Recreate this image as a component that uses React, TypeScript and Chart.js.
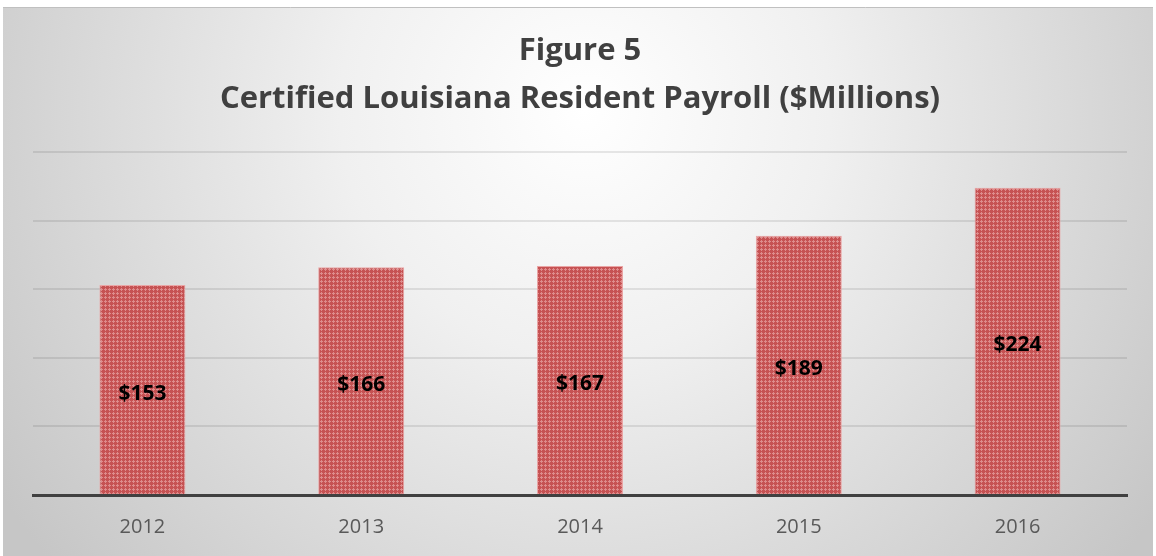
import React, { useEffect, useRef } from "react";
import { Chart, registerables } from "chart.js";

Chart.register(...registerables);

const categories = ["2012", "2013", "2014", "2015", "2016"];
const payroll = [153, 166, 167, 189, 224];
const valueLabels = ["$153", "$166", "$167", "$189", "$224"];
const titleLines = ["Figure 5", "Certified Louisiana Resident Payroll ($Millions)"];

function makePattern(): CanvasPattern | string {
  const c = document.createElement("canvas");
  c.width = 4;
  c.height = 4;
  const g = c.getContext("2d");
  if (!g) return "#cc5555";
  g.fillStyle = "#c65253";
  g.fillRect(0, 0, 4, 4);
  g.fillStyle = "#de8c8c";
  g.fillRect(1, 0, 1, 3);
  g.fillRect(0, 1, 3, 1);
  const p = g.createPattern(c, "repeat");
  return p || "#cc5555";
}

const backgroundPlugin = {
  id: "bgPanel",
  beforeDraw(chart: any) {
    const { ctx, width, height } = chart;
    ctx.save();
    ctx.fillStyle = "#ffffff";
    ctx.fillRect(0, 0, width, height);
    const x0 = 3, y0 = 7, x1 = 1153, y1 = height;
    const grad = ctx.createRadialGradient(585, 110, 0, 585, 110, 700);
    grad.addColorStop(0, "#ffffff");
    grad.addColorStop(0.35, "#f0f0f0");
    grad.addColorStop(1, "#c6c6c6");
    ctx.fillStyle = grad;
    ctx.fillRect(x0, y0, x1 - x0, y1 - y0);
    ctx.strokeStyle = "#c0c0c0";
    ctx.lineWidth = 1;
    ctx.beginPath();
    ctx.moveTo(x0, y0 + 0.5);
    ctx.lineTo(x1, y0 + 0.5);
    ctx.stroke();
    ctx.restore();
  },
};

const labelPlugin = {
  id: "midLabels",
  afterDatasetsDraw(chart: any) {
    const { ctx } = chart;
    const meta = chart.getDatasetMeta(0);
    ctx.save();
    ctx.font = "bold 21px 'Open Sans'";
    ctx.fillStyle = "#000000";
    ctx.textAlign = "center";
    ctx.textBaseline = "middle";
    meta.data.forEach((bar: any, i: number) => {
      const y = (bar.y + bar.base) / 2 + 4;
      ctx.fillText(valueLabels[i], bar.x, y);
    });
    ctx.restore();
  },
};

export default function App() {
  const ref = useRef<HTMLCanvasElement | null>(null);
  useEffect(() => {
    if (!ref.current) return;
    const chart = new Chart(ref.current, {
      type: "bar",
      data: {
        labels: categories,
        datasets: [
          {
            data: payroll,
            backgroundColor: makePattern() as any,
            borderColor: "#eaa5a5",
            borderWidth: 1,
            barPercentage: 1,
            categoryPercentage: 0.393,
          },
        ],
      },
      options: {
        animation: false,
        responsive: false,
        maintainAspectRatio: false,
        layout: { padding: { left: 33, right: 29, top: 0, bottom: 0 } },
        plugins: {
          legend: { display: false },
          tooltip: { enabled: false },
          title: {
            display: true,
            text: titleLines,
            color: "#404040",
            font: { family: "'Open Sans'", size: 31, weight: "bold", lineHeight: 48 / 31 },
            padding: { top: 27, bottom: 29 },
          },
        },
        scales: {
          x: {
            grid: { display: false, drawTicks: false },
            border: { display: true, color: "#404040", width: 3 },
            ticks: { color: "#595959", font: { family: "'Open Sans'", size: 20 }, padding: 20 },
          },
          y: {
            min: 0,
            max: 250,
            ticks: { display: false, stepSize: 50 },
            border: { display: false },
            grid: {
              drawTicks: false,
              lineWidth: 2,
              color: (c: any) => (c.tick && c.tick.value === 0 ? "rgba(0,0,0,0)" : "rgba(0,0,0,0.09)"),
            },
          },
        },
      },
      plugins: [backgroundPlugin, labelPlugin],
    });
    return () => chart.destroy();
  }, []);
  return (
    <div style={{ position: "fixed", left: 0, top: 0, width: 1156, height: 556, overflow: "hidden" }}>
      <canvas ref={ref} width={1156} height={559} style={{ display: "block" }} />
    </div>
  );
}
